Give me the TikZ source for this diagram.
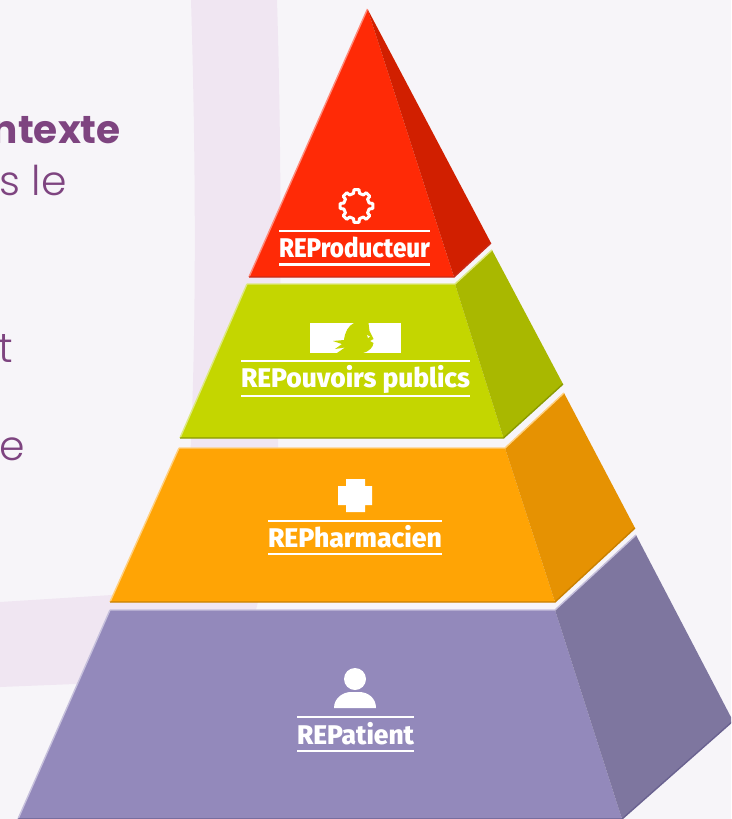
\documentclass[tikz,border=0pt]{standalone}
\usepackage{fontspec}
\setmainfont{Fira Sans}
\newfontfamily\repfont{Fira Sans}[UprightFont=* ExtraBold]
\newfontfamily\ctxbold{Poppins}[UprightFont=* Bold]
\newfontfamily\ctxlight{Poppins}[UprightFont=* Light]
\definecolor{bgc}{HTML}{F7F5F9}
\definecolor{bandc}{HTML}{F0E6F2}
\definecolor{ctxc}{HTML}{7E4480}
\definecolor{redf}{HTML}{FF2A06}\definecolor{reds}{HTML}{D11F00}\definecolor{redl}{HTML}{FF8A7A}\definecolor{redd}{HTML}{C92A18}
\definecolor{grnf}{HTML}{C4D600}\definecolor{grns}{HTML}{A9B800}\definecolor{grnl}{HTML}{DDE880}\definecolor{grnd}{HTML}{8A9A00}
\definecolor{orgf}{HTML}{FFA405}\definecolor{orgs}{HTML}{E69202}\definecolor{orgl}{HTML}{FFD080}\definecolor{orgd}{HTML}{C98000}
\definecolor{purf}{HTML}{9389BB}\definecolor{purs}{HTML}{7E769F}\definecolor{purl}{HTML}{C6C0DC}\definecolor{purd}{HTML}{6A6290}
\tikzset{
  x=1pt,y=-1pt,
  rulew/.style={draw=white,line width=2.6pt},
  iconw/.style={fill=white,draw=none},
  replabel/.style={anchor=base,inner sep=0pt,text=white,font=\repfont\fontsize{27}{27}\selectfont},
  ctxb/.style={anchor=base east,inner sep=0pt,text=ctxc,font=\ctxbold\fontsize{39}{39}\selectfont},
  ctxl/.style={anchor=base east,inner sep=0pt,text=ctxc,font=\ctxlight\fontsize{41}{41}\selectfont},
  edge/.style={line width=1.4pt,line cap=butt}
}
% front colour, side colour, light, dark, prefix
\newcommand{\tierfill}[5]{%
  \fill[#1] (#5tl) -- (#5bl) -- (#5br) -- (#5tr) -- cycle;
  \fill[#2] (#5tr) -- (#5st) -- (#5sb) -- (#5br) -- cycle;
  \draw[edge,#3] (#5tl) -- (#5bl);
  \draw[edge,#3] (#5tl) -- (#5tr) -- (#5st);
  \draw[edge,#4] (#5bl) -- (#5br) -- (#5sb);
}
\newcommand{\replabelbar}[6]{% name, xleft, xright, ytop, ybottom, text node
  \coordinate (#1a) at (#2,#4); \coordinate (#1b) at (#3,#4);
  \coordinate (#1c) at (#2,#5); \coordinate (#1d) at (#3,#5);
  \draw[rulew] (#1a) -- (#1b);
  \draw[rulew] (#1c) -- (#1d);
  #6
}
\begin{document}
\begin{tikzpicture}
\useasboundingbox (0,0) rectangle (731,819);
\clip (0,0) rectangle (731,819);
\fill[bgc] (0,0) rectangle (731,819);
% curved band behind the pyramid
\fill[bandc] (191,0) .. controls (195,130) and (197,300) .. (191,440)
  .. controls (186,560) and (150,592) .. (112,595) -- (0,602) -- (0,687) -- (75,684)
  .. controls (150,680) and (240,670) .. (257,606)
  .. controls (265,570) and (272,510) .. (278,448)
  .. controls (282,300) and (281,130) .. (277,0) -- cycle;
% context text, cut by the picture's edge
\node[ctxb] (t1) at (121,143) {ntexte};
\node[ctxl] (t2) at (67,195) {s le};
\node[ctxl] (t3) at (13,362) {t};
\node[ctxl] (t4) at (25,460) {re};
% red tier
\coordinate (atl) at (367.5,9); \coordinate (abl) at (249,277); \coordinate (abr) at (454,277);
\coordinate (atr) at (367.5,9); \coordinate (ast) at (367.5,9); \coordinate (asb) at (491,243);
\tierfill{redf}{reds}{redl}{redd}{a}
% green tier
\coordinate (btl) at (247,284); \coordinate (bbl) at (180,438); \coordinate (bbr) at (503.5,438);
\coordinate (btr) at (455,284); \coordinate (bst) at (492,250); \coordinate (bsb) at (563,384);
\tierfill{grnf}{grns}{grnl}{grnd}{b}
% orange tier
\coordinate (ctl) at (179,448); \coordinate (cbl) at (110,602); \coordinate (cbr) at (555,602);
\coordinate (ctr) at (505,448); \coordinate (cst) at (564,393); \coordinate (csb) at (635,528);
\tierfill{orgf}{orgs}{orgl}{orgd}{c}
% purple tier
\coordinate (dtl) at (110,610); \coordinate (dbl) at (18,819); \coordinate (dbr) at (622,819);
\coordinate (dtr) at (555,610); \coordinate (dst) at (636,535); \coordinate (dsb) at (733,721);
\tierfill{purf}{purs}{purl}{purd}{d}
% labels
\replabelbar{ra}{279}{430}{231}{264.7}{\node[replabel] (lab1) at (354.5,257) {\resizebox{151pt}{\height}{REProducteur}};}
\replabelbar{rb}{241}{470}{361}{396}{\node[replabel] (lab2) at (355.5,387) {\resizebox{229pt}{\height}{REPouvoirs publics}};}
\replabelbar{rc}{268}{442}{521}{554}{\node[replabel] (lab3) at (355,547) {\resizebox{174pt}{\height}{REPharmacien}};}
\replabelbar{rd}{297}{414}{717}{751}{\node[replabel] (lab4) at (355.5,744) {\resizebox{117pt}{\height}{REPatient}};}
% gear
\begin{scope}[shift={(356.5,206)}]
\draw[draw=white,line width=3pt,line join=round]
  (-13:13) \foreach \a in {0,45,...,315} { -- (\a-13:13) -- (\a-9:16.5) -- (\a+9:16.5) -- (\a+13:13) } -- cycle;
\end{scope}
% Marianne block
\fill[iconw] (310,323) rectangle (401,353);
\fill[grnf] (354,323) .. controls (348,326) and (345,332) .. (344,340)
  -- (333,341) -- (342,344) -- (335,349) -- (345,347.5) -- (337,353) -- (363,353)
  .. controls (370,351) and (373,347) .. (373.5,343)
  -- (370,341) -- (373.5,339) -- (369.5,331) -- (368.5,323) -- cycle;
\fill[iconw] (367,335) -- (370,336.5) -- (368,338) -- cycle;
% cross
\fill[iconw] (346,479) -- (365,479) -- (365,486) -- (372,486) -- (372,505) -- (365,505) -- (365,512) -- (346,512) -- (346,505) -- (338,505) -- (338,486) -- (346,486) -- cycle;
% person
\fill[iconw] (355,679) circle[radius=11];
\fill[iconw] (334,708) .. controls (334,698) and (343,692) .. (351,692) -- (359,692)
  .. controls (368,692) and (376,698) .. (376,708) -- cycle;
\end{tikzpicture}
\end{document}
